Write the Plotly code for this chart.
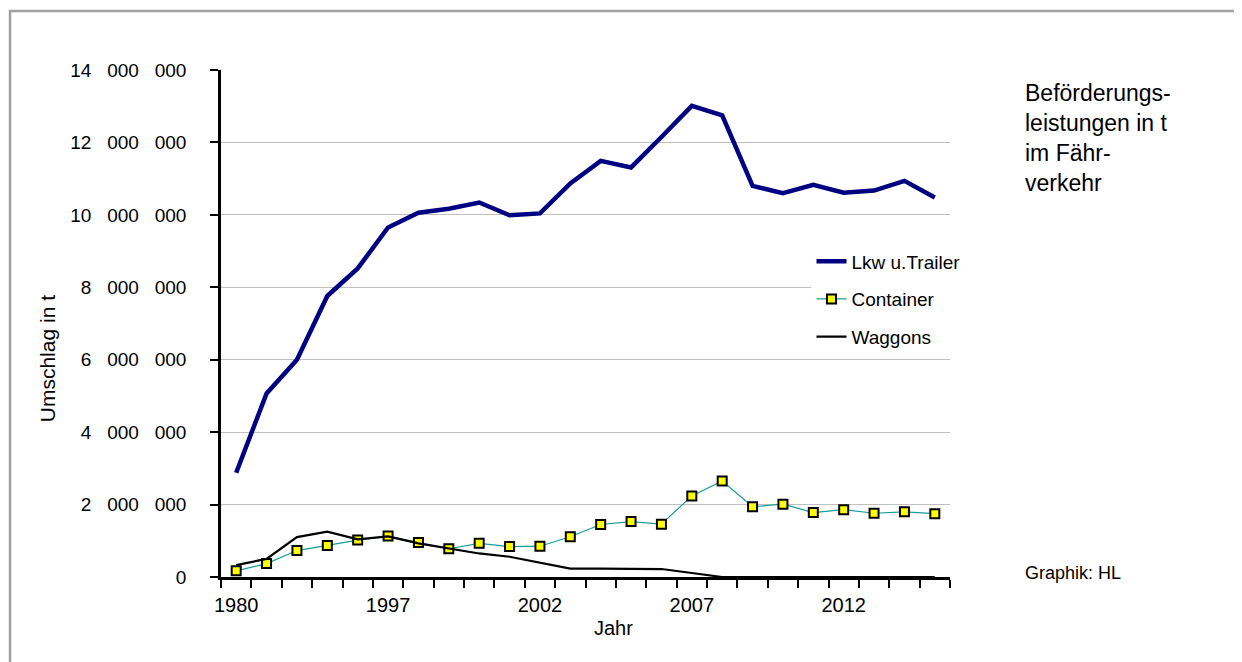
import plotly.graph_objects as go

# categories (only every fifth year is labelled on the axis)
years = ["1980", "1985", "1990", "1995", "1996", "1997", "1998", "1999", "2000", "2001",
         "2002", "2003", "2004", "2005", "2006", "2007", "2008", "2009", "2010", "2011",
         "2012", "2013", "2014", "2015"]
x_tick_labels = ["1980", "", "", "", "", "1997", "", "", "", "",
                 "2002", "", "", "", "", "2007", "", "", "", "",
                 "2012", "", "", ""]

lkw_trailer = [2.88e6, 5.07e6, 6.0e6, 7.76e6, 8.52e6, 9.65e6, 10.06e6, 10.17e6, 10.34e6, 9.99e6,
               10.04e6, 10.87e6, 11.49e6, 11.31e6, 12.15e6, 13.01e6, 12.75e6, 10.8e6, 10.6e6, 10.83e6,
               10.61e6, 10.67e6, 10.94e6, 10.48e6]
container = [0.17e6, 0.37e6, 0.73e6, 0.87e6, 1.02e6, 1.13e6, 0.95e6, 0.78e6, 0.93e6, 0.84e6,
             0.85e6, 1.11e6, 1.45e6, 1.53e6, 1.46e6, 2.24e6, 2.65e6, 1.94e6, 2.01e6, 1.78e6,
             1.86e6, 1.76e6, 1.8e6, 1.75e6]
waggons = [0.33e6, 0.5e6, 1.1e6, 1.25e6, 1.04e6, 1.12e6, 0.93e6, 0.79e6, 0.65e6, 0.56e6,
           0.4e6, 0.23e6, 0.23e6, 0.22e6, 0.22e6, 0.11e6, 0, 0, 0, 0,
           0, 0, 0, 0]

y_tick_vals = [0, 2e6, 4e6, 6e6, 8e6, 10e6, 12e6, 14e6]
nb = "\u00a0\u00a0\u00a0"
y_tick_labels = ["0", f"2{nb}000{nb}000", f"4{nb}000{nb}000", f"6{nb}000{nb}000",
                 f"8{nb}000{nb}000", f"10{nb}000{nb}000", f"12{nb}000{nb}000", f"14{nb}000{nb}000"]

FONT = "Liberation Sans, Arial, sans-serif"

fig = go.Figure()
fig.add_trace(go.Scatter(x=years, y=lkw_trailer, name="Lkw u.Trailer", mode="lines",
                         line=dict(color="#000080", width=4.5), legendgroup="a"))
fig.add_trace(go.Scatter(x=years, y=container, name="Container", mode="lines+markers",
                         line=dict(color="#169c9c", width=1.2),
                         marker=dict(symbol="square", size=9, color="#ffff00",
                                     line=dict(color="black", width=2)),
                         legendgroup="b"))
fig.add_trace(go.Scatter(x=years, y=waggons, name="Waggons", mode="lines",
                         line=dict(color="black", width=2.2), legendgroup="c"))

fig.update_layout(
    width=1242, height=662,
    margin=dict(l=213, r=300, t=62, b=93),
    paper_bgcolor="white", plot_bgcolor="white",
    font=dict(family=FONT, size=18, color="black"),
    showlegend=True,
    legend=dict(x=0.81, y=0.66, xanchor="left", yanchor="top", bgcolor="white",
                font=dict(size=19), tracegroupgap=10, itemwidth=30),
    xaxis=dict(type="category", range=[-0.5, 23.5], tickmode="array",
               tickvals=years, ticktext=x_tick_labels, tickson="boundaries", tickangle=0,
               ticks="outside", ticklen=8, tickwidth=2, tickcolor="black",
               showline=True, linecolor="black", linewidth=2.5, showgrid=False,
               tickfont=dict(size=20), ticklabelstandoff=8, zeroline=False),
    yaxis=dict(range=[0, 14e6], tickmode="array", tickvals=y_tick_vals, ticktext=y_tick_labels,
               ticks="outside", ticklen=8, tickwidth=2, tickcolor="black",
               showline=True, linecolor="black", linewidth=2.5,
               showgrid=True, gridcolor="#c0c0c0", gridwidth=1, zeroline=False,
               tickfont=dict(size=19), ticklabelstandoff=20),
    annotations=[
        dict(text="Beförderungs-<br>leistungen in t<br>im Fähr-<br>verkehr", xref="paper", yref="paper",
             x=1.1, y=0.985, xanchor="left", yanchor="top", align="left", showarrow=False,
             font=dict(size=23)),
        dict(text="Graphik: HL", xref="paper", yref="paper", x=1.1, y=0.008,
             xanchor="left", yanchor="middle", showarrow=False, font=dict(size=18)),
        dict(text="Jahr", xref="paper", yref="paper", x=0.538, y=-0.1006,
             xanchor="center", yanchor="middle", showarrow=False, font=dict(size=20)),
        dict(text="Umschlag in t", xref="paper", yref="paper", x=-0.237, y=0.43,
             xanchor="center", yanchor="middle", showarrow=False, textangle=-90,
             font=dict(size=21)),
    ],
    shapes=[dict(type="rect", xref="paper", yref="paper", x0=-0.2894, x1=1.42, y0=-0.3, y1=1.1164,
                 line=dict(color="#a0a0a0", width=2.5))],
)

fig.write_html("out.html")
